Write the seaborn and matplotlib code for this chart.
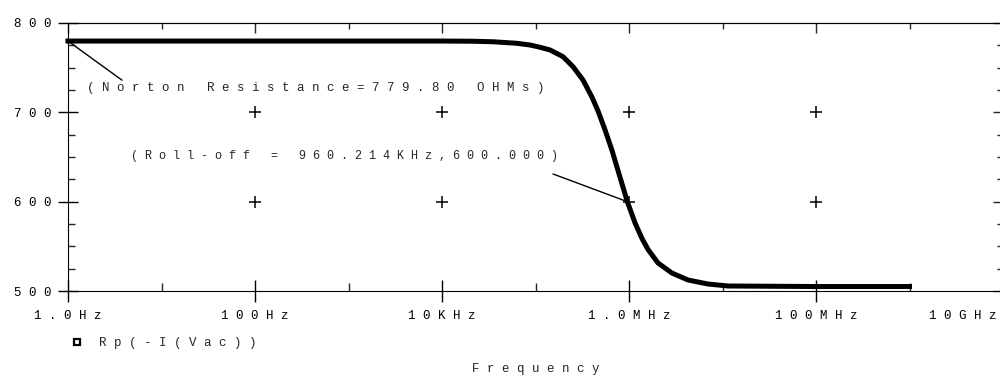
import matplotlib
matplotlib.use("Agg")
import matplotlib.pyplot as plt
from matplotlib.lines import Line2D
from matplotlib.ticker import NullFormatter
from matplotlib.transforms import ScaledTranslation
import seaborn as sns
import pandas as pd
import numpy as np

# ---- data ----
freq_hz = [1, 10, 100, 1e3, 1e4, 2.1e4, 3.5e4, 6.3e4, 8.7e4, 1.1e5, 1.43e5, 1.97e5, 2.52e5,
           3.22e5, 4.02e5, 4.66e5, 5.53e5, 6.58e5, 7.62e5, 9.6e5, 1.16e6, 1.38e6,
           1.6e6, 2.04e6, 2.88e6, 4.28e6, 7.0e6, 1.15e7, 1e8, 1e9]
rp_ohm = [779.8, 779.8, 779.8, 779.8, 779.8, 779.6, 779.0, 777.3, 775.4, 773.0, 769.8, 762.3, 751.1,
          736.2, 717.0, 701.6, 680.6, 657.4, 635.0, 600.0, 576.2, 558.6,
          546.4, 531.4, 520.1, 512.3, 507.8, 505.6, 505.0, 505.0]

x_major = [1, 1e2, 1e4, 1e6, 1e8, 1e10]
x_major_labels = ["1.0Hz", "100Hz", "10KHz", "1.0MHz", "100MHz", "10GHz"]
x_minor = [10, 1e3, 1e5, 1e7, 1e9]
y_major = [500, 600, 700, 800]
y_minor = [525, 550, 575, 625, 650, 675, 725, 750, 775]

series_name = "Rp(-I(Vac))"
x_title = "Frequency"
note_norton = "(Norton Resistance=779.80 OHMs)"
note_rolloff = "(Roll-off = 960.214KHz,600.000)"
norton_point = (1, 779.8)
rolloff_point = (960.214e3, 600.0)


def spaced(s):
    return " ".join(s)


sns.set_style("white")
plt.rcParams["font.family"] = ["Liberation Mono", "DejaVu Sans Mono"]
plt.rcParams["font.size"] = 9

fig = plt.figure(figsize=(10, 3.77), dpi=100)
W, H = 1000, 377
ax = fig.add_axes([68 / W, (H - 291) / H, 935 / W, 268 / H])

df = pd.DataFrame({"freq": freq_hz, "rp": rp_ohm})
sns.lineplot(data=df, x="freq", y="rp", ax=ax, color="black", lw=3.6,
             legend=False, sort=True)
for ln in ax.lines:
    ln.set_solid_capstyle("projecting")
    ln.set_solid_joinstyle("round")
    ln.set_clip_on(False)

ax.set_xscale("log")
ax.set_xlim(x_major[0], x_major[-1])
ax.set_ylim(y_major[0], y_major[-1])

for s in ax.spines.values():
    s.set_linewidth(0.8)
    s.set_color("black")

# bottom / left ticks
ax.set_xticks(x_major)
ax.set_xticklabels([spaced(t) for t in x_major_labels])
ax.set_xticks(x_minor, minor=True)
ax.xaxis.set_minor_formatter(NullFormatter())
ax.set_yticks(y_major)
ax.set_yticklabels([spaced(str(v)) for v in y_major])
ax.set_yticks(y_minor, minor=True)
ax.yaxis.set_minor_formatter(NullFormatter())
ax.tick_params(axis="x", which="major", direction="inout", length=15.8, width=1.0,
               pad=5.5, labelsize=9, colors="black", bottom=True, top=False)
ax.tick_params(axis="x", which="minor", direction="in", length=5.8, width=1.0,
               bottom=True, top=False)
ax.tick_params(axis="y", which="major", direction="inout", length=13.7, width=1.0,
               pad=5.0, labelsize=9, colors="black", left=True, right=False)
ax.tick_params(axis="y", which="minor", direction="in", length=5.0, width=1.0,
               left=True, right=False)

# last x label is pulled left inside the figure, as in the reference
last_tick = ax.xaxis.get_major_ticks()[-1]
last_tick.label1.set_transform(last_tick.label1.get_transform()
                               + ScaledTranslation(-0.40, 0, fig.dpi_scale_trans))

# top / right ticks (inward only)
secx = ax.secondary_xaxis("top")
secx.set_xticks(x_major)
secx.set_xticklabels([])
secx.set_xticks(x_minor, minor=True)
secx.xaxis.set_minor_formatter(NullFormatter())
secx.tick_params(which="major", direction="in", length=7.2, width=1.0)
secx.tick_params(which="minor", direction="in", length=4.3, width=1.0)
secx.spines["top"].set_linewidth(0.8)
secy = ax.secondary_yaxis("right")
secy.set_yticks(y_major)
secy.set_yticklabels([])
secy.set_yticks(y_minor, minor=True)
secy.yaxis.set_minor_formatter(NullFormatter())
secy.tick_params(which="major", direction="in", length=7.2, width=1.0)
secy.tick_params(which="minor", direction="in", length=4.3, width=1.0)

# "+" grid marks at interior major intersections
gx = [v for v in x_major[1:-1]]
gy = [v for v in y_major[1:-1]]
GX, GY = np.meshgrid(gx, gy)
ax.scatter(GX.ravel(), GY.ravel(), marker="+", s=70, color="black", lw=1.1, zorder=3)

# annotations
ax.annotate("", xy=norton_point, xytext=(3.78, 736.0),
            arrowprops=dict(arrowstyle="-", lw=1.0, color="black", shrinkA=0, shrinkB=0))
ax.text(1.6, 727.2, spaced(note_norton), ha="left", va="center", fontsize=9.0)
ax.annotate("", xy=rolloff_point, xytext=(1.54e5, 631.0),
            arrowprops=dict(arrowstyle="-", lw=1.0, color="black", shrinkA=0, shrinkB=0))
ax.text(4.75, 651.1, spaced(note_rolloff), ha="left", va="center", fontsize=8.5)

# x title
ax.set_xlabel(spaced(x_title), fontsize=9)
ax.xaxis.label.set_va("center")
ax.xaxis.set_label_coords(0.5, (291 - 369) / 268)
ax.set_ylabel("")

# legend
handle = Line2D([], [], marker="s", ls="", mfc="white", mec="black", ms=4.5, mew=1.6)
fig.legend(handles=[handle], labels=[spaced(series_name)], loc="center left",
           bbox_to_anchor=(70.75 / W, (H - 343) / H), frameon=False, borderpad=0,
           borderaxespad=0, handlelength=1.0, handletextpad=1.26, fontsize=9)

fig.savefig("out.png", dpi=100, facecolor="white")
